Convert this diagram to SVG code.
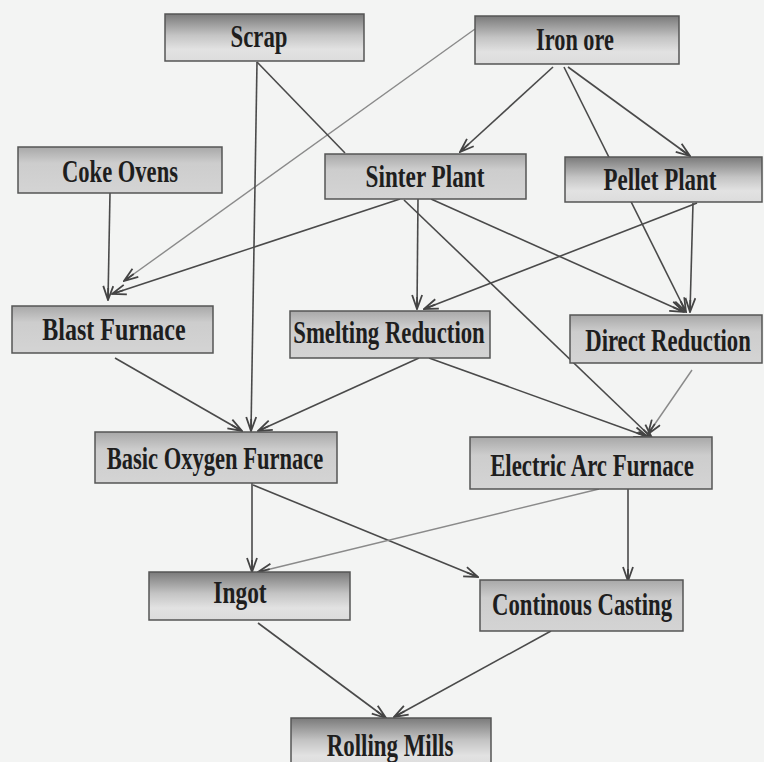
<svg xmlns="http://www.w3.org/2000/svg" width="764" height="762" viewBox="0 0 764 762">
<defs>
<linearGradient id="gStrong" x1="0" y1="0" x2="0" y2="1">
<stop offset="0" stop-color="#7a7a7a"/>
<stop offset="0.45" stop-color="#c4c4c4"/>
<stop offset="0.75" stop-color="#e2e2e2"/>
<stop offset="1" stop-color="#dcdcdc"/>
</linearGradient>
<linearGradient id="gWeak" x1="0" y1="0" x2="0" y2="1">
<stop offset="0" stop-color="#a8a8a8"/>
<stop offset="0.35" stop-color="#cdcdcd"/>
<stop offset="1" stop-color="#d4d4d4"/>
</linearGradient>
<marker id="arr" viewBox="0 0 16 12" refX="15" refY="6" markerWidth="16" markerHeight="12" markerUnits="userSpaceOnUse" orient="auto">
<path d="M1,1 L15,6 L1,11 M3,6 L15,6" fill="none" stroke="#444" stroke-width="1.8"/>
</marker>
</defs>
<style>
.box{stroke:#555;stroke-width:1.5}
.s{fill:url(#gStrong)}
.w{fill:url(#gWeak)}
.t{font-family:"Liberation Serif","DejaVu Serif",serif;font-weight:bold;font-size:32px;fill:#1e1e1e;text-anchor:middle}
.c{fill:none;stroke:#4a4a4a;stroke-width:1.6;marker-end:url(#arr)}
.l{fill:none;stroke:#8a8a8a;stroke-width:1.4;marker-end:url(#arr)}
.n{fill:none;stroke:#4a4a4a;stroke-width:1.6}
</style>
<rect width="764" height="762" fill="#f3f4f3"/>
<g id="connectors">
<line class="l" x1="475" y1="29" x2="124" y2="281"/>
<line class="n" x1="257" y1="62" x2="345" y2="153"/>
<line class="c" x1="257" y1="62" x2="251" y2="431"/>
<line class="c" x1="553" y1="67" x2="460" y2="152"/>
<line class="c" x1="564" y1="67" x2="686" y2="312"/>
<line class="c" x1="568" y1="67" x2="690" y2="156"/>
<line class="c" x1="693" y1="203" x2="690" y2="312"/>
<line class="c" x1="697" y1="203" x2="424" y2="309"/>
<line class="c" x1="110" y1="193" x2="108" y2="300"/>
<line class="c" x1="400" y1="199" x2="112" y2="294"/>
<line class="c" x1="418" y1="199" x2="417" y2="309"/>
<line class="c" x1="404" y1="200" x2="652" y2="438"/>
<line class="c" x1="431" y1="199" x2="684" y2="312"/>
<line class="c" x1="419" y1="358" x2="258" y2="431"/>
<line class="c" x1="429" y1="358" x2="648" y2="437"/>
<line class="c" x1="115" y1="358" x2="242" y2="431"/>
<line class="l" x1="692" y1="370" x2="648" y2="434"/>
<line class="c" x1="252" y1="483" x2="252" y2="572"/>
<line class="c" x1="253" y1="485" x2="478" y2="577"/>
<line class="l" x1="599" y1="489" x2="258" y2="572"/>
<line class="c" x1="628" y1="489" x2="628" y2="581"/>
<line class="c" x1="258" y1="623" x2="386" y2="718"/>
<line class="c" x1="551" y1="631" x2="394" y2="717"/>
</g>
<g id="scrap"><rect class="box s" x="165" y="14" width="199" height="47"/><text class="t" transform="translate(259 47) scale(0.72 1)" textLength="79" lengthAdjust="spacingAndGlyphs">Scrap</text></g>
<g id="iron-ore"><rect class="box s" x="475" y="16" width="204" height="48"/><text class="t" transform="translate(575 50) scale(0.72 1)" textLength="108" lengthAdjust="spacingAndGlyphs">Iron ore</text></g>
<g id="coke-ovens"><rect class="box w" x="18" y="147" width="204" height="46"/><text class="t" transform="translate(120 182) scale(0.72 1)" textLength="161" lengthAdjust="spacingAndGlyphs">Coke Ovens</text></g>
<g id="sinter-plant"><rect class="box w" x="325" y="154" width="201" height="45"/><text class="t" transform="translate(425 187) scale(0.72 1)" textLength="165" lengthAdjust="spacingAndGlyphs">Sinter Plant</text></g>
<g id="pellet-plant"><rect class="box s" x="565" y="157" width="197" height="45"/><text class="t" transform="translate(660 190) scale(0.72 1)" textLength="157" lengthAdjust="spacingAndGlyphs">Pellet Plant</text></g>
<g id="blast-furnace"><rect class="box w" x="12" y="306" width="201" height="47"/><text class="t" transform="translate(114 340) scale(0.72 1)" textLength="199" lengthAdjust="spacingAndGlyphs">Blast Furnace</text></g>
<g id="smelting-reduction"><rect class="box w" x="290" y="311" width="200" height="47"/><text class="t" transform="translate(389 343) scale(0.72 1)" textLength="266" lengthAdjust="spacingAndGlyphs">Smelting Reduction</text></g>
<g id="direct-reduction"><rect class="box w" x="570" y="315" width="192" height="48"/><text class="t" transform="translate(668 351) scale(0.72 1)" textLength="230" lengthAdjust="spacingAndGlyphs">Direct Reduction</text></g>
<g id="basic-oxygen-furnace"><rect class="box w" x="95" y="432" width="242" height="51"/><text class="t" transform="translate(215 469) scale(0.72 1)" textLength="301" lengthAdjust="spacingAndGlyphs">Basic Oxygen Furnace</text></g>
<g id="electric-arc-furnace"><rect class="box w" x="470" y="437" width="242" height="52"/><text class="t" transform="translate(592 476) scale(0.72 1)" textLength="283" lengthAdjust="spacingAndGlyphs">Electric Arc Furnace</text></g>
<g id="ingot"><rect class="box s" x="149" y="572" width="201" height="48"/><text class="t" transform="translate(240 603) scale(0.72 1)" textLength="74" lengthAdjust="spacingAndGlyphs">Ingot</text></g>
<g id="continous-casting"><rect class="box w" x="480" y="580" width="203" height="51"/><text class="t" transform="translate(582 615) scale(0.72 1)" textLength="250" lengthAdjust="spacingAndGlyphs">Continous Casting</text></g>
<g id="rolling-mills"><rect class="box s" x="291" y="718" width="200" height="50"/><text class="t" transform="translate(390 756) scale(0.72 1)" textLength="176" lengthAdjust="spacingAndGlyphs">Rolling Mills</text></g>
</svg>
